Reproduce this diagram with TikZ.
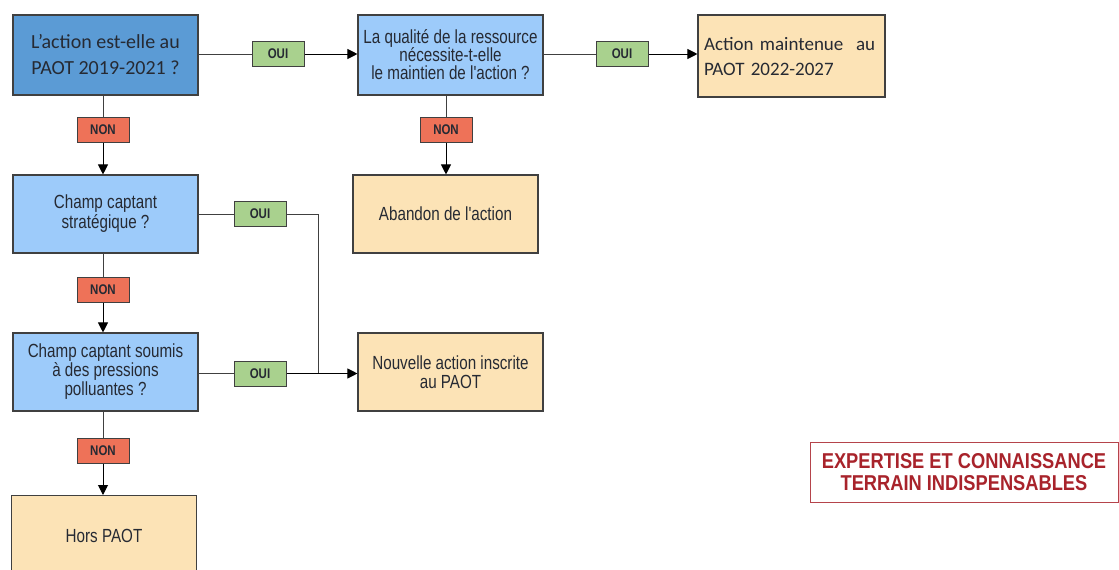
\documentclass[tikz,border=0pt]{standalone}
\usepackage{fontspec}
\usetikzlibrary{arrows.meta}
\newfontfamily\calib{Carlito}
\newfontfamily\narrow[FakeStretch=0.8]{Liberation Sans}
\newfontfamily\narrowb[FakeStretch=0.82]{Liberation Sans Bold}
\newfontfamily\redb[FakeStretch=0.85]{Liberation Sans Bold}
\definecolor{dblue}{HTML}{5B9BD5}
\definecolor{lblue}{HTML}{9DCBFA}
\definecolor{beige}{HTML}{FCE3B6}
\definecolor{ouig}{HTML}{A9D18E}
\definecolor{nonr}{HTML}{EE7258}
\definecolor{lin}{HTML}{404040}
\definecolor{redt}{HTML}{A8232B}
\definecolor{txt}{HTML}{262A33}
\tikzset{
  box/.style={draw=lin, line width=1.1pt, minimum width=185pt, minimum height=80pt, align=center, inner sep=2pt},
  qbox/.style={box, fill=lblue, font=\narrow\fontsize{19}{19}\selectfont, text=txt},
  rbox/.style={box, fill=beige, font=\narrow\fontsize{19}{19}\selectfont, text=txt},
  lab/.style={draw=lin, line width=1pt, minimum width=52pt, minimum height=25pt, inner sep=0pt, font=\narrowb\fontsize{14}{14}\selectfont, text=txt},
  oui/.style={lab, fill=ouig},
  non/.style={lab, fill=nonr},
  conn/.style={draw=lin, line width=1pt},
  arr/.style={conn, -{Triangle[length=10pt,width=10pt]}, black}
}
\begin{document}
\begin{tikzpicture}[x=1pt,y=-1pt]
\useasboundingbox (0,0) rectangle (1119,570);
% row 1
\node[box, fill=dblue, font=\calib\fontsize{20}{26}\selectfont, text=txt, minimum height=80pt] (A) at (105.5,55) {L’action est-elle au\\PAOT 2019-2021 ?};
\node[qbox, font=\narrow\fontsize{19}{18}\selectfont] (B) at (450.5,55) {La qualité de la ressource\\nécessite-t-elle\\le maintien de l'action ?};
\node[box, fill=beige, minimum width=187pt, minimum height=82pt, font=\calib\fontsize{19}{25}\selectfont, text=txt, align=left, text width=175pt] (C) at (791.5,56) {Action maintenue~ au\\PAOT 2022-2027};
\node[oui] (o1) at (278,54) {OUI};
\node[oui] (o2) at (622,54) {OUI};
\node[non] (n1) at (103,129.5) {NON};
\node[non] (n2) at (446,129.5) {NON};
% row 2
\node[qbox, minimum height=78pt, font=\narrow\fontsize{19}{20}\selectfont] (D) at (105.5,214) {Champ captant\\stratégique ?};
\node[rbox, minimum height=78pt] (E) at (445.5,214) {Abandon de l'action};
\node[oui] (o3) at (260,214) {OUI};
\node[non] (n3) at (103,289.5) {NON};
% row 3
\node[qbox, minimum height=78pt] (F) at (105.5,372) {Champ captant soumis\\à des pressions\\polluantes ?};
\node[rbox, minimum height=78pt] (G) at (450.5,372) {Nouvelle action inscrite\\au PAOT};
\node[oui] (o4) at (260,373.5) {OUI};
\node[non] (n4) at (103,450.5) {NON};
% row 4
\node[rbox, minimum height=80pt, anchor=north] (H) at (104,495) {\raisebox{-10pt}{Hors PAOT}};
% red note
\node[draw=redt!85, line width=1pt, minimum width=308pt, minimum height=60pt, align=center, text=redt, font=\redb\fontsize{21.5}{22}\selectfont] (R) at (964,472) {EXPERTISE ET CONNAISSANCE\\TERRAIN INDISPENSABLES};
\coordinate (j) at (318,373.5);
% connectors
\draw[conn] (A.east |- o1) -- (o1.west);
\draw[arr] (o1.east) -- (B.west |- o1);
\draw[conn] (B.east |- o2) -- (o2.west);
\draw[arr] (o2.east) -- (C.west |- o2);
\draw[conn] (A.south -| n1) -- (n1.north);
\draw[arr] (n1.south) -- (D.north -| n1);
\draw[conn] (B.south -| n2) -- (n2.north);
\draw[arr] (n2.south) -- (E.north -| n2);
\draw[conn] (D.east |- o3) -- (o3.west);
\draw[conn] (o3.east) -| (j);
\draw[conn] (F.east |- o4) -- (o4.west);
\draw[arr] (o4.east) -- (G.west |- o4);
\draw[conn] (D.south -| n3) -- (n3.north);
\draw[arr] (n3.south) -- (F.north -| n3);
\draw[conn] (F.south -| n4) -- (n4.north);
\draw[arr] (n4.south) -- (H.north -| n4);
\end{tikzpicture}
\end{document}
